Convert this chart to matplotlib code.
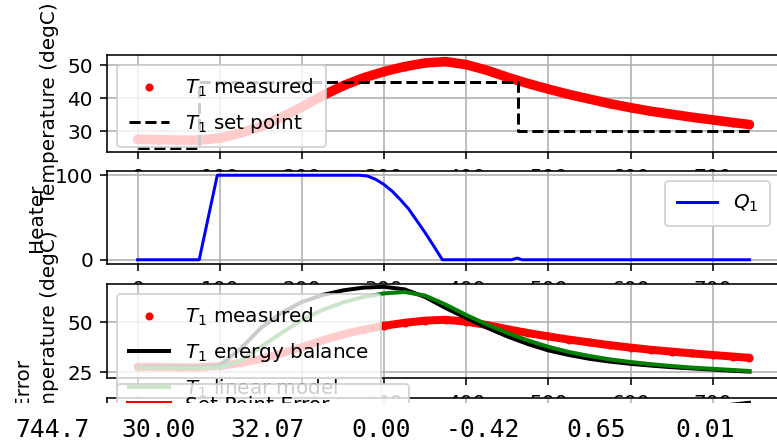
import matplotlib.pyplot as plt
from matplotlib.patches import Rectangle

# time grid (sec) of the values
tm = [0, 25, 50, 75, 100, 125, 150, 175, 200, 225, 250, 275, 300, 325, 350,
      375, 400, 425, 450, 475, 500, 525, 550, 575, 600, 625, 650, 675, 700,
      725, 744.7]

T1 = [27.6, 27.5, 27.4, 27.4, 28.0, 29.5, 31.5, 34.3, 37.4, 40.8, 43.8, 46.2,
      48.1, 49.6, 50.7, 51.1, 50.2, 48.5, 46.4, 44.5, 42.8, 41.2, 39.8, 38.4,
      37.2, 36.1, 35.2, 34.3, 33.5, 32.7, 32.1]

Tp = [27.5, 27.5, 27.5, 27.5, 28.2, 36.5, 47.0, 54.5, 60.0, 63.5, 65.8, 67.2,
      67.6, 66.3, 62.5, 57.0, 52.0, 47.2, 42.8, 39.0, 35.8, 33.5, 31.6, 30.2,
      29.1, 28.2, 27.4, 26.8, 26.2, 25.6, 25.2]

Tpl = [27.3, 27.1, 27.0, 27.0, 27.2, 30.5, 37.5, 44.5, 51.0, 56.0, 59.8, 62.5,
       64.3, 65.0, 63.2, 58.7, 53.5, 48.8, 44.5, 40.8, 37.6, 35.0, 33.0, 31.3,
       30.0, 28.9, 28.0, 27.2, 26.6, 26.0, 25.5]

# set point changes
sp_t = [0, 75, 463, 744.7]
Tsp1 = [25, 45, 30, 30]

# heater output
q_t = [0, 75, 97, 270, 280, 290, 300, 310, 320, 330, 340, 350, 360, 371,
       455, 462, 468, 744.7]
Q1 = [0, 0, 100, 100, 99, 95, 89, 81, 71, 60, 46, 32, 17, 0, 0, 2, 0, 0]

# cumulative errors (mostly hidden below the printout)
err_t = [0, 100, 150, 200, 250, 300, 350, 400, 450, 500, 550, 600, 650, 700, 744.7]
err_sp = [0, 600, 1400, 2000, 2200, 2300, 2350, 2430, 2580, 3050, 3500, 3850, 4150, 4400, 4500]
err_eb = [0, 20, 600, 2100, 3500, 4600, 5300, 5400, 5500, 5900, 6400, 7000, 7500, 8000, 8400]
err_lm = [0, 30, 300, 1200, 2200, 3000, 3600, 3750, 3800, 4100, 4500, 4900, 5300, 5600, 5900]

printout = ['744.7', '30.00', '32.07', '0.00', '-0.42', '0.65', '0.01']
printout_x = [15, 121, 230, 351, 446, 566, 675]

plt.rcParams['legend.borderpad'] = 0.6
plt.rcParams['legend.labelspacing'] = 0.65
plt.rcParams['xtick.major.pad'] = 4.5

W, H = 777, 441
fig = plt.figure(figsize=(W / 144, H / 144), dpi=144)

def box(top, bottom):
    return [107 / W, 1 - bottom / H, 673 / W, (bottom - top) / H]

xticks = [0, 100, 200, 300, 400, 500, 600, 700]

ax1 = fig.add_axes(box(55, 152))
ax1.plot(tm, T1, 'r-', lw=4.8, solid_capstyle='round')
ax1.plot(tm, T1, 'r.', label=r'$T_1$ measured')
ax1.plot(sp_t, Tsp1, 'k--', drawstyle='steps-post', label=r'$T_1$ set point')
ax1.set_ylabel('Temperature (degC)')
ax1.set_ylim(23.8, 53.1)
ax1.set_yticks([30, 40, 50])
ax1.set_xticks(xticks)
ax1.legend(loc=2)
ax1.grid(True)

ax2 = fig.add_axes(box(171, 264))
ax2.plot(q_t, Q1, 'b-', label=r'$Q_1$')
ax2.set_ylabel('Heater')
ax2.set_yticks([0, 100])
ax2.set_xticks(xticks)
ax2.legend(loc='upper right')
ax2.grid(True)

ax3 = fig.add_axes(box(284, 378))
ax3.plot(tm, T1, 'r-', lw=4, solid_capstyle='round')
ax3.plot(tm, T1, 'r.', label=r'$T_1$ measured')
ax3.plot(tm, Tp, 'k-', lw=2, label=r'$T_1$ energy balance')
ax3.plot(tm, Tpl, 'g-', lw=2, label=r'$T_1$ linear model')
ax3.set_ylabel('Temperature (degC)')
ax3.set_ylim(22, 69)
ax3.set_yticks([25, 50])
ax3.set_xticks(xticks)
ax3.legend(loc=2)
ax3.grid(True)

ax4 = fig.add_axes(box(398, 492))
ax4.plot(err_t, err_sp, 'r-', lw=3, label='Set Point Error')
ax4.plot(err_t, err_eb, 'k-', label='Energy Balance Error')
ax4.plot(err_t, err_lm, 'g-', label='Linear Model Error')
ax4.set_ylabel('Cumulative Error')
ax4.set_xticks(xticks)
ax4.legend(loc='center left', bbox_to_anchor=(0, 0.585))
ax4.grid(True)

# notebook printout covering the bottom of the figure
fig.add_artist(Rectangle((0, 0), 1, 1 - 403 / H, transform=fig.transFigure,
                         facecolor='white', edgecolor='none', zorder=10))
for s, x in zip(printout, printout_x):
    fig.text(x / W, 1 - 437 / H, s, family='DejaVu Sans Mono', fontsize=12.3,
             ha='left', va='baseline', zorder=11)

fig.savefig('out.png', dpi=144)
